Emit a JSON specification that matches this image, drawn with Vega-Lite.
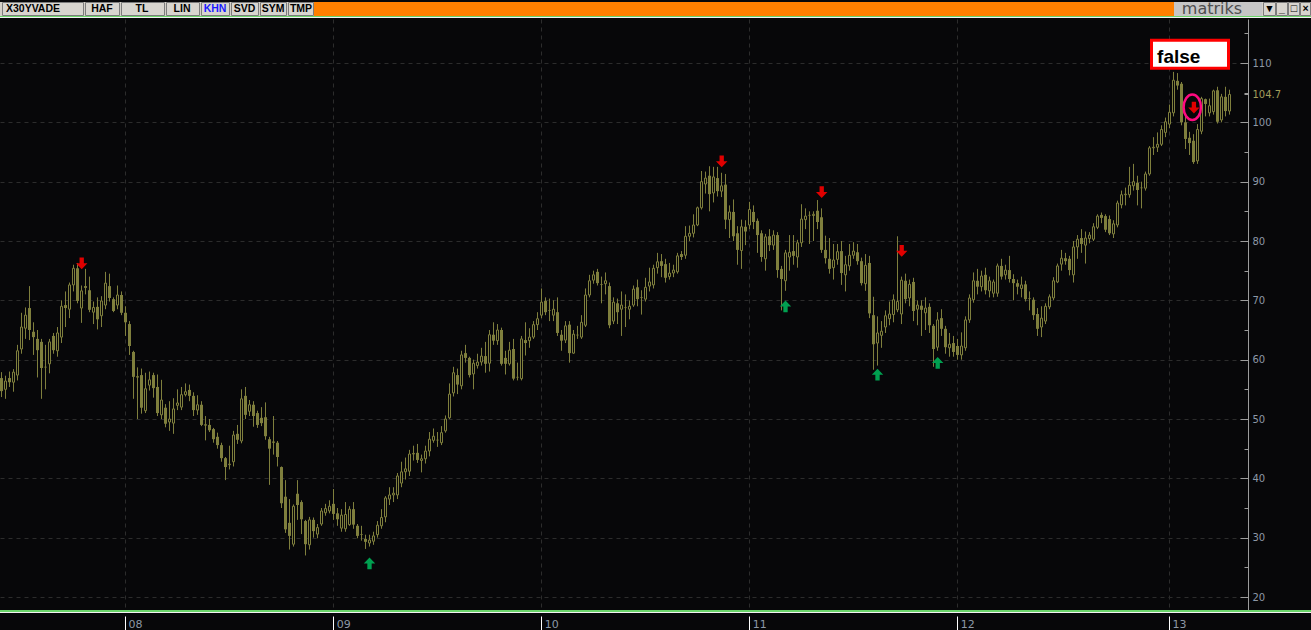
{
"$schema": "https://vega.github.io/schema/vega-lite/v6.json",
"background": "#070709",
"padding": 0,
"spacing": 0,
"config": {"view": {"stroke": null}, "concat": {"spacing": 0}},
"resolve": {"scale": {"x": "independent", "y": "independent", "color": "independent"}},
"datasets": {
"candles": [
{"i":0,"o":56.9,"h":57.9,"l":53.7,"c":54.7},{"i":1,"o":55.0,"h":57.3,"l":53.4,"c":56.4},{"i":2,"o":56.9,"h":58.0,"l":55.4,"c":56.2},{"i":3,"o":56.2,"h":58.4,"l":54.6,"c":57.9},{"i":4,"o":57.4,"h":62.5,"l":56.5,"c":61.5},{"i":5,"o":61.8,"h":67.9,"l":61.0,"c":65.5},{"i":6,"o":65.3,"h":68.8,"l":63.5,"c":67.5},{"i":7,"o":68.7,"h":72.4,"l":63.3,"c":65.0},{"i":8,"o":64.7,"h":66.3,"l":60.8,"c":63.8},{"i":9,"o":63.5,"h":65.0,"l":57.0,"c":61.6},
{"i":10,"o":63.0,"h":63.5,"l":53.4,"c":58.6},{"i":11,"o":58.8,"h":62.5,"l":55.0,"c":58.7},{"i":12,"o":59.3,"h":63.5,"l":57.7,"c":63.0},{"i":13,"o":64.0,"h":64.5,"l":61.0,"c":61.6},{"i":14,"o":61.5,"h":65.5,"l":60.5,"c":64.5},{"i":15,"o":63.8,"h":70.0,"l":62.8,"c":69.0},{"i":16,"o":69.2,"h":71.5,"l":65.5,"c":68.7},{"i":17,"o":68.5,"h":73.0,"l":67.0,"c":72.6},{"i":18,"o":72.6,"h":76.0,"l":71.5,"c":75.4},{"i":19,"o":75.4,"h":76.3,"l":69.5,"c":69.9},
{"i":20,"o":68.7,"h":72.5,"l":66.2,"c":71.6},{"i":21,"o":72.4,"h":75.3,"l":71.0,"c":72.1},{"i":22,"o":71.7,"h":74.0,"l":68.0,"c":68.4},{"i":23,"o":68.0,"h":69.8,"l":66.0,"c":68.8},{"i":24,"o":68.9,"h":70.5,"l":65.1,"c":66.8},{"i":25,"o":67.4,"h":70.7,"l":65.5,"c":69.9},{"i":26,"o":69.2,"h":74.8,"l":68.5,"c":72.9},{"i":27,"o":72.4,"h":74.5,"l":69.8,"c":70.4},{"i":28,"o":70.2,"h":70.5,"l":68.0,"c":68.2},{"i":29,"o":69.2,"h":72.5,"l":68.5,"c":70.9},
{"i":30,"o":70.9,"h":71.5,"l":67.5,"c":67.9},{"i":31,"o":67.9,"h":69.0,"l":64.0,"c":66.3},{"i":32,"o":66.0,"h":66.5,"l":60.8,"c":62.3},{"i":33,"o":61.3,"h":61.5,"l":53.4,"c":57.1},{"i":34,"o":57.2,"h":58.7,"l":50.0,"c":57.0},{"i":35,"o":57.4,"h":58.5,"l":50.9,"c":51.9},{"i":36,"o":51.4,"h":57.8,"l":51.0,"c":55.1},{"i":37,"o":55.7,"h":58.0,"l":54.8,"c":56.6},{"i":38,"o":57.4,"h":57.8,"l":53.6,"c":55.2},{"i":39,"o":55.4,"h":57.5,"l":50.5,"c":51.0},
{"i":40,"o":50.7,"h":56.6,"l":50.0,"c":53.2},{"i":41,"o":51.9,"h":52.5,"l":48.6,"c":49.2},{"i":42,"o":49.5,"h":53.0,"l":48.0,"c":50.0},{"i":43,"o":49.3,"h":53.5,"l":47.5,"c":51.7},{"i":44,"o":52.3,"h":55.0,"l":51.5,"c":52.7},{"i":45,"o":52.0,"h":55.4,"l":51.5,"c":54.1},{"i":46,"o":54.1,"h":56.0,"l":53.8,"c":54.6},{"i":47,"o":54.9,"h":55.8,"l":53.0,"c":53.9},{"i":48,"o":53.9,"h":54.5,"l":50.5,"c":51.5},{"i":49,"o":51.5,"h":54.0,"l":50.7,"c":52.4},
{"i":50,"o":52.4,"h":53.0,"l":48.8,"c":49.0},{"i":51,"o":49.1,"h":50.5,"l":46.4,"c":48.9},{"i":52,"o":49.0,"h":50.0,"l":47.8,"c":48.1},{"i":53,"o":48.3,"h":48.5,"l":46.0,"c":46.6},{"i":54,"o":47.0,"h":47.7,"l":45.0,"c":45.6},{"i":55,"o":45.6,"h":46.0,"l":42.8,"c":43.4},{"i":56,"o":43.4,"h":43.6,"l":39.7,"c":41.9},{"i":57,"o":42.3,"h":45.5,"l":41.5,"c":42.4},{"i":58,"o":42.8,"h":48.0,"l":42.0,"c":47.3},{"i":59,"o":47.5,"h":49.0,"l":45.8,"c":46.5},
{"i":60,"o":46.3,"h":55.0,"l":45.9,"c":53.4},{"i":61,"o":53.9,"h":55.4,"l":50.0,"c":50.7},{"i":62,"o":51.3,"h":53.2,"l":50.5,"c":52.4},{"i":63,"o":52.4,"h":53.0,"l":48.7,"c":50.5},{"i":64,"o":51.0,"h":51.4,"l":48.5,"c":49.0},{"i":65,"o":50.2,"h":52.0,"l":48.8,"c":49.3},{"i":66,"o":50.3,"h":52.8,"l":46.5,"c":47.1},{"i":67,"o":46.6,"h":47.0,"l":38.9,"c":45.0},{"i":68,"o":46.2,"h":50.5,"l":44.0,"c":46.0},{"i":69,"o":46.0,"h":46.3,"l":42.0,"c":43.6},
{"i":70,"o":41.9,"h":42.0,"l":35.0,"c":35.8},{"i":71,"o":36.9,"h":39.7,"l":30.8,"c":31.4},{"i":72,"o":32.5,"h":36.5,"l":28.0,"c":30.3},{"i":73,"o":28.9,"h":35.6,"l":28.5,"c":35.3},{"i":74,"o":37.4,"h":39.7,"l":33.0,"c":35.5},{"i":75,"o":36.0,"h":36.3,"l":30.6,"c":33.1},{"i":76,"o":32.8,"h":33.0,"l":27.0,"c":28.9},{"i":77,"o":28.8,"h":33.5,"l":28.0,"c":33.0},{"i":78,"o":33.0,"h":33.4,"l":30.0,"c":31.1},{"i":79,"o":30.6,"h":32.3,"l":29.9,"c":31.7},
{"i":80,"o":32.3,"h":35.0,"l":32.0,"c":34.5},{"i":81,"o":34.2,"h":35.7,"l":33.7,"c":34.9},{"i":82,"o":34.5,"h":36.3,"l":34.1,"c":35.3},{"i":83,"o":35.7,"h":38.2,"l":33.0,"c":34.0},{"i":84,"o":34.1,"h":35.0,"l":32.0,"c":33.1},{"i":85,"o":31.6,"h":34.8,"l":31.0,"c":33.8},{"i":86,"o":31.5,"h":36.0,"l":31.0,"c":33.9},{"i":87,"o":32.2,"h":35.3,"l":32.0,"c":34.8},{"i":88,"o":34.8,"h":36.0,"l":31.5,"c":32.2},{"i":89,"o":32.0,"h":32.3,"l":29.9,"c":30.3},
{"i":90,"o":30.6,"h":32.0,"l":29.5,"c":30.5},{"i":91,"o":29.8,"h":30.5,"l":28.1,"c":29.3},{"i":92,"o":29.1,"h":30.5,"l":28.5,"c":29.6},{"i":93,"o":29.4,"h":31.0,"l":28.8,"c":30.3},{"i":94,"o":30.5,"h":32.8,"l":30.0,"c":32.1},{"i":95,"o":32.0,"h":34.8,"l":31.5,"c":33.4},{"i":96,"o":33.5,"h":37.0,"l":32.6,"c":36.7},{"i":97,"o":36.5,"h":38.5,"l":35.5,"c":37.2},{"i":98,"o":37.2,"h":38.5,"l":36.0,"c":37.5},{"i":99,"o":37.2,"h":40.9,"l":36.5,"c":40.4},
{"i":100,"o":39.2,"h":42.8,"l":38.5,"c":41.1},{"i":101,"o":41.1,"h":43.5,"l":39.8,"c":41.6},{"i":102,"o":41.2,"h":44.8,"l":40.4,"c":44.1},{"i":103,"o":44.1,"h":45.5,"l":43.0,"c":44.2},{"i":104,"o":44.3,"h":45.8,"l":42.6,"c":43.1},{"i":105,"o":43.0,"h":44.0,"l":41.0,"c":43.3},{"i":106,"o":43.3,"h":45.5,"l":42.5,"c":44.6},{"i":107,"o":44.6,"h":47.8,"l":43.7,"c":46.6},{"i":108,"o":46.4,"h":48.4,"l":46.0,"c":47.1},{"i":109,"o":46.5,"h":47.8,"l":45.3,"c":46.4},
{"i":110,"o":46.0,"h":48.8,"l":45.6,"c":47.7},{"i":111,"o":48.0,"h":50.6,"l":47.7,"c":50.0},{"i":112,"o":50.2,"h":56.0,"l":50.0,"c":54.2},{"i":113,"o":54.4,"h":58.8,"l":53.8,"c":57.8},{"i":114,"o":57.4,"h":58.5,"l":54.2,"c":55.8},{"i":115,"o":55.6,"h":61.5,"l":55.0,"c":60.8},{"i":116,"o":61.1,"h":62.5,"l":59.5,"c":60.3},{"i":117,"o":60.3,"h":60.5,"l":57.0,"c":57.4},{"i":118,"o":57.6,"h":60.0,"l":55.0,"c":59.4},{"i":119,"o":59.0,"h":61.0,"l":58.5,"c":59.6},
{"i":120,"o":59.6,"h":62.0,"l":59.0,"c":60.6},{"i":121,"o":60.6,"h":63.0,"l":57.8,"c":59.3},{"i":122,"o":59.4,"h":65.0,"l":58.0,"c":64.2},{"i":123,"o":64.2,"h":66.3,"l":62.5,"c":63.2},{"i":124,"o":63.2,"h":66.0,"l":62.5,"c":65.0},{"i":125,"o":65.0,"h":65.4,"l":59.0,"c":59.3},{"i":126,"o":60.3,"h":61.5,"l":57.5,"c":59.3},{"i":127,"o":59.3,"h":63.0,"l":59.0,"c":61.6},{"i":128,"o":61.8,"h":63.5,"l":56.5,"c":56.8},{"i":129,"o":57.1,"h":59.5,"l":56.5,"c":57.0},
{"i":130,"o":56.8,"h":64.0,"l":56.5,"c":63.5},{"i":131,"o":63.3,"h":66.3,"l":60.7,"c":62.8},{"i":132,"o":63.2,"h":65.3,"l":62.0,"c":63.8},{"i":133,"o":63.8,"h":66.5,"l":63.5,"c":65.9},{"i":134,"o":65.9,"h":68.0,"l":65.0,"c":66.9},{"i":135,"o":67.5,"h":72.0,"l":67.0,"c":69.7},{"i":136,"o":69.9,"h":70.5,"l":67.5,"c":68.0},{"i":137,"o":68.3,"h":70.3,"l":66.5,"c":68.2},{"i":138,"o":67.5,"h":70.0,"l":66.5,"c":68.5},{"i":139,"o":68.0,"h":70.5,"l":64.0,"c":64.5},
{"i":140,"o":64.2,"h":65.0,"l":61.5,"c":63.2},{"i":141,"o":63.3,"h":66.5,"l":62.8,"c":65.7},{"i":142,"o":65.9,"h":66.5,"l":59.5,"c":61.1},{"i":143,"o":61.1,"h":65.0,"l":61.0,"c":64.3},{"i":144,"o":64.2,"h":65.7,"l":63.5,"c":64.1},{"i":145,"o":63.8,"h":67.5,"l":63.5,"c":66.3},{"i":146,"o":65.8,"h":72.0,"l":65.5,"c":70.9},{"i":147,"o":70.9,"h":74.3,"l":70.5,"c":73.3},{"i":148,"o":73.4,"h":75.0,"l":72.8,"c":74.3},{"i":149,"o":74.8,"h":75.3,"l":72.5,"c":72.9},
{"i":150,"o":72.7,"h":74.0,"l":69.5,"c":72.6},{"i":151,"o":72.8,"h":74.7,"l":71.0,"c":73.3},{"i":152,"o":72.4,"h":73.0,"l":65.3,"c":65.8},{"i":153,"o":66.5,"h":70.5,"l":66.0,"c":69.7},{"i":154,"o":69.5,"h":70.3,"l":66.0,"c":68.0},{"i":155,"o":68.5,"h":71.5,"l":64.0,"c":69.2},{"i":156,"o":68.8,"h":71.0,"l":65.5,"c":68.7},{"i":157,"o":68.5,"h":70.0,"l":66.8,"c":69.0},{"i":158,"o":69.2,"h":72.5,"l":68.9,"c":71.9},{"i":159,"o":72.2,"h":73.5,"l":69.0,"c":70.2},
{"i":160,"o":70.5,"h":71.7,"l":67.6,"c":70.4},{"i":161,"o":70.2,"h":73.8,"l":69.8,"c":72.2},{"i":162,"o":72.4,"h":75.5,"l":71.5,"c":73.1},{"i":163,"o":72.6,"h":76.0,"l":72.0,"c":75.4},{"i":164,"o":75.5,"h":78.0,"l":74.5,"c":76.5},{"i":165,"o":76.6,"h":77.8,"l":73.9,"c":75.8},{"i":166,"o":76.1,"h":77.0,"l":73.0,"c":73.8},{"i":167,"o":74.0,"h":76.3,"l":73.5,"c":74.6},{"i":168,"o":74.6,"h":76.0,"l":73.9,"c":75.1},{"i":169,"o":74.8,"h":78.0,"l":74.5,"c":77.5},
{"i":170,"o":77.8,"h":78.3,"l":76.8,"c":77.3},{"i":171,"o":77.6,"h":82.5,"l":77.0,"c":80.8},{"i":172,"o":80.8,"h":82.6,"l":80.0,"c":81.3},{"i":173,"o":81.3,"h":84.5,"l":80.6,"c":82.7},{"i":174,"o":82.7,"h":85.8,"l":82.5,"c":85.6},{"i":175,"o":85.6,"h":91.8,"l":85.3,"c":90.0},{"i":176,"o":89.6,"h":91.7,"l":88.0,"c":90.6},{"i":177,"o":91.0,"h":92.6,"l":85.0,"c":87.9},{"i":178,"o":88.1,"h":92.5,"l":86.5,"c":90.8},{"i":179,"o":90.6,"h":92.5,"l":87.5,"c":88.4},
{"i":180,"o":88.4,"h":91.5,"l":87.4,"c":89.3},{"i":181,"o":89.5,"h":91.3,"l":82.0,"c":83.6},{"i":182,"o":83.6,"h":86.0,"l":80.5,"c":84.9},{"i":183,"o":84.9,"h":87.0,"l":80.0,"c":80.8},{"i":184,"o":81.3,"h":82.5,"l":76.0,"c":78.5},{"i":185,"o":78.4,"h":83.6,"l":75.3,"c":82.4},{"i":186,"o":82.4,"h":83.5,"l":79.3,"c":81.6},{"i":187,"o":82.7,"h":86.6,"l":82.0,"c":85.3},{"i":188,"o":84.9,"h":86.0,"l":82.0,"c":83.2},{"i":189,"o":83.4,"h":83.8,"l":78.0,"c":81.0},
{"i":190,"o":81.3,"h":81.8,"l":76.5,"c":77.3},{"i":191,"o":77.0,"h":81.2,"l":75.0,"c":80.7},{"i":192,"o":80.8,"h":82.0,"l":78.3,"c":79.3},{"i":193,"o":79.3,"h":81.8,"l":78.5,"c":81.0},{"i":194,"o":81.0,"h":81.5,"l":73.8,"c":75.1},{"i":195,"o":75.3,"h":75.8,"l":68.3,"c":73.6},{"i":196,"o":73.3,"h":78.5,"l":71.6,"c":78.0},{"i":197,"o":77.3,"h":81.0,"l":75.0,"c":78.1},{"i":198,"o":78.3,"h":81.0,"l":76.0,"c":77.5},{"i":199,"o":77.3,"h":80.2,"l":75.5,"c":79.7},
{"i":200,"o":79.7,"h":86.2,"l":79.0,"c":83.7},{"i":201,"o":83.6,"h":85.5,"l":82.0,"c":84.2},{"i":202,"o":84.4,"h":85.0,"l":79.5,"c":84.3},{"i":203,"o":84.3,"h":85.0,"l":80.0,"c":84.5},{"i":204,"o":85.1,"h":86.9,"l":82.0,"c":83.2},{"i":205,"o":84.0,"h":85.5,"l":78.0,"c":78.5},{"i":206,"o":78.5,"h":80.9,"l":76.2,"c":77.1},{"i":207,"o":77.0,"h":80.5,"l":74.5,"c":75.3},{"i":208,"o":75.5,"h":79.5,"l":73.5,"c":76.8},{"i":209,"o":76.9,"h":79.5,"l":76.0,"c":78.2},
{"i":210,"o":78.3,"h":80.0,"l":72.6,"c":74.6},{"i":211,"o":74.3,"h":77.5,"l":71.5,"c":76.0},{"i":212,"o":75.8,"h":79.5,"l":75.0,"c":77.6},{"i":213,"o":77.6,"h":79.8,"l":77.0,"c":78.3},{"i":214,"o":78.1,"h":79.5,"l":76.0,"c":76.6},{"i":215,"o":76.6,"h":77.2,"l":72.5,"c":72.9},{"i":216,"o":72.8,"h":77.8,"l":71.6,"c":75.9},{"i":217,"o":76.3,"h":77.5,"l":67.0,"c":67.8},{"i":218,"o":67.5,"h":70.6,"l":58.3,"c":62.6},{"i":219,"o":62.8,"h":67.3,"l":59.0,"c":64.5},
{"i":220,"o":64.1,"h":66.5,"l":62.0,"c":64.8},{"i":221,"o":65.5,"h":68.3,"l":64.5,"c":67.4},{"i":222,"o":66.9,"h":69.8,"l":65.8,"c":67.7},{"i":223,"o":67.6,"h":71.0,"l":66.3,"c":70.1},{"i":224,"o":68.4,"h":80.8,"l":68.0,"c":69.8},{"i":225,"o":67.7,"h":74.0,"l":66.0,"c":73.4},{"i":226,"o":73.3,"h":74.5,"l":69.5,"c":70.2},{"i":227,"o":70.4,"h":73.5,"l":69.0,"c":72.7},{"i":228,"o":73.1,"h":73.8,"l":66.5,"c":68.2},{"i":229,"o":68.5,"h":70.0,"l":65.8,"c":69.2},
{"i":230,"o":69.1,"h":70.0,"l":64.0,"c":68.4},{"i":231,"o":67.9,"h":70.5,"l":65.0,"c":68.7},{"i":232,"o":68.9,"h":69.5,"l":64.5,"c":65.8},{"i":233,"o":65.7,"h":66.0,"l":58.8,"c":61.8},{"i":234,"o":62.1,"h":68.0,"l":61.5,"c":66.7},{"i":235,"o":67.0,"h":68.5,"l":64.0,"c":65.2},{"i":236,"o":65.2,"h":65.7,"l":61.0,"c":62.1},{"i":237,"o":62.0,"h":64.5,"l":60.5,"c":62.6},{"i":238,"o":62.8,"h":64.0,"l":60.5,"c":61.3},{"i":239,"o":62.3,"h":63.5,"l":60.0,"c":60.8},
{"i":240,"o":60.8,"h":64.6,"l":60.0,"c":62.3},{"i":241,"o":62.0,"h":67.3,"l":61.5,"c":66.7},{"i":242,"o":66.7,"h":71.0,"l":66.2,"c":70.4},{"i":243,"o":70.1,"h":74.7,"l":69.6,"c":73.3},{"i":244,"o":73.3,"h":75.3,"l":71.0,"c":72.3},{"i":245,"o":72.3,"h":75.0,"l":71.5,"c":74.1},{"i":246,"o":74.3,"h":75.5,"l":71.0,"c":71.7},{"i":247,"o":71.6,"h":74.0,"l":70.5,"c":73.3},{"i":248,"o":71.2,"h":73.5,"l":70.5,"c":73.1},{"i":249,"o":71.2,"h":76.2,"l":70.6,"c":75.8},
{"i":250,"o":75.8,"h":77.0,"l":73.5,"c":74.0},{"i":251,"o":74.3,"h":76.0,"l":73.5,"c":75.1},{"i":252,"o":75.1,"h":77.5,"l":73.0,"c":73.6},{"i":253,"o":73.6,"h":74.4,"l":70.0,"c":72.9},{"i":254,"o":72.9,"h":73.5,"l":71.0,"c":72.3},{"i":255,"o":72.0,"h":74.0,"l":70.5,"c":72.6},{"i":256,"o":72.7,"h":73.3,"l":69.8,"c":70.2},{"i":257,"o":70.4,"h":71.5,"l":68.3,"c":70.3},{"i":258,"o":70.1,"h":70.5,"l":66.7,"c":67.5},{"i":259,"o":67.7,"h":68.7,"l":64.0,"c":65.2},
{"i":260,"o":65.5,"h":69.0,"l":63.8,"c":67.0},{"i":261,"o":66.5,"h":69.5,"l":66.0,"c":69.0},{"i":262,"o":68.9,"h":71.0,"l":68.5,"c":70.6},{"i":263,"o":70.4,"h":73.9,"l":70.0,"c":73.3},{"i":264,"o":73.1,"h":76.2,"l":72.9,"c":75.8},{"i":265,"o":76.1,"h":78.5,"l":75.0,"c":77.1},{"i":266,"o":77.1,"h":78.0,"l":76.0,"c":76.6},{"i":267,"o":77.0,"h":77.5,"l":74.2,"c":75.1},{"i":268,"o":74.3,"h":80.0,"l":73.0,"c":79.0},{"i":269,"o":79.0,"h":81.0,"l":77.0,"c":80.3},
{"i":270,"o":80.5,"h":82.0,"l":78.0,"c":79.5},{"i":271,"o":79.3,"h":81.6,"l":76.2,"c":80.5},{"i":272,"o":80.4,"h":81.5,"l":79.6,"c":81.0},{"i":273,"o":80.3,"h":83.0,"l":80.0,"c":82.4},{"i":274,"o":82.3,"h":84.5,"l":82.0,"c":84.2},{"i":275,"o":84.4,"h":84.8,"l":83.0,"c":83.9},{"i":276,"o":84.2,"h":84.5,"l":81.5,"c":81.9},{"i":277,"o":83.7,"h":84.3,"l":81.0,"c":81.3},{"i":278,"o":81.2,"h":83.5,"l":80.5,"c":82.9},{"i":279,"o":82.7,"h":86.8,"l":82.3,"c":86.4},
{"i":280,"o":86.1,"h":88.5,"l":85.5,"c":87.8},{"i":281,"o":87.8,"h":89.0,"l":86.0,"c":87.9},{"i":282,"o":87.8,"h":92.5,"l":87.3,"c":89.4},{"i":283,"o":89.3,"h":93.0,"l":88.5,"c":90.0},{"i":284,"o":89.8,"h":91.0,"l":86.0,"c":88.6},{"i":285,"o":89.0,"h":90.0,"l":85.5,"c":88.9},{"i":286,"o":88.9,"h":91.7,"l":88.5,"c":91.3},{"i":287,"o":91.3,"h":96.0,"l":91.0,"c":95.7},{"i":288,"o":95.7,"h":97.5,"l":94.5,"c":95.8},{"i":289,"o":95.8,"h":98.3,"l":95.0,"c":96.3},
{"i":290,"o":96.3,"h":99.5,"l":96.0,"c":98.8},{"i":291,"o":98.3,"h":100.8,"l":97.5,"c":100.1},{"i":292,"o":99.7,"h":103.0,"l":99.0,"c":101.7},{"i":293,"o":101.6,"h":108.5,"l":101.0,"c":107.1},{"i":294,"o":107.0,"h":108.3,"l":105.5,"c":106.2},{"i":295,"o":106.5,"h":106.8,"l":99.5,"c":100.0},{"i":296,"o":100.0,"h":101.0,"l":95.5,"c":97.2},{"i":297,"o":97.4,"h":98.4,"l":94.5,"c":96.5},{"i":298,"o":96.9,"h":98.0,"l":93.0,"c":93.3},{"i":299,"o":93.5,"h":99.7,"l":93.0,"c":98.8},
{"i":300,"o":98.5,"h":104.3,"l":98.0,"c":104.0},{"i":301,"o":103.9,"h":104.0,"l":101.0,"c":103.1},{"i":302,"o":101.6,"h":104.0,"l":101.0,"c":102.8},{"i":303,"o":101.8,"h":105.5,"l":101.3,"c":105.3},{"i":304,"o":105.4,"h":106.0,"l":99.8,"c":100.1},{"i":305,"o":100.4,"h":104.8,"l":100.0,"c":104.3},{"i":306,"o":104.3,"h":106.0,"l":101.0,"c":101.9},{"i":307,"o":101.9,"h":105.5,"l":101.3,"c":104.7}
],
"downArrows": [{"i":20.05,"v":76.2},{"i":180.05,"v":93.4},{"i":205.05,"v":88.2},{"i":225.05,"v":78.3},{"i":298.1,"v":102.45}],
"upArrows": [{"i":92.0,"v":25.7},{"i":196.0,"v":69.0},{"i":219.0,"v":57.5},{"i":234.05,"v":59.5}],
"marker": [{"i":297.7,"v":102.55}],
"note": [{"a":287.5,"b":306.75,"lo":109.12,"hi":113.84,"tx":288.9,"ty":110.05,"label":"false"}],
"years": [{"i":30.875},{"i":82.95},{"i":134.95},{"i":186.95},{"i":238.95},{"i":291.875}],
"tbBlocks": [{"a":0,"b":1311,"t":0,"u":14,"k":"bar"},{"a":314,"b":1174,"t":0,"u":14,"k":"orange"},{"a":1174,"b":1262,"t":0,"u":14,"k":"logo"},{"a":0,"b":1311,"t":14,"u":15,"k":"green"},{"a":0,"b":1311,"t":15,"u":16,"k":"white"}],
"tbButtons": [{"a":2.5,"b":83.5},{"a":85.5,"b":119.5},{"a":121.5,"b":164.5},{"a":166.5,"b":199.5},{"a":201.5,"b":229.5},{"a":231.5,"b":258.5},{"a":260.5,"b":286.5},{"a":288.5,"b":313.5},{"a":1263.5,"b":1275.5},{"a":1276.5,"b":1287.5},{"a":1288.5,"b":1299.5},{"a":1300.5,"b":1310.5}],
"tbText": [{"x":33,"label":"X30YVADE","k":"btn"},{"x":102,"label":"HAF","k":"btn"},{"x":142,"label":"TL","k":"btn"},{"x":182,"label":"LIN","k":"btn"},{"x":215,"label":"KHN","k":"sel"},{"x":244.5,"label":"SVD","k":"btn"},{"x":273,"label":"SYM","k":"btn"},{"x":301,"label":"TMP","k":"btn"},{"x":1269.5,"label":"▼","k":"win"},{"x":1282,"label":"_","k":"win"},{"x":1294,"label":"□","k":"win"},{"x":1305.5,"label":"×","k":"win"}],
"tbLogo": [{"x":1212,"label":"matriks"}]
},
"vconcat": [
{
 "width": 1311, "height": 17,
 "view": {"stroke": null},
 "resolve": {"scale": {"color": "independent"}},
 "layer": [
  {"data": {"name": "tbBlocks"}, "mark": {"type": "rect"},
   "encoding": {
    "x": {"field": "a", "type": "quantitative", "scale": {"domain": [0, 1311], "nice": false, "zero": false, "padding": 0}, "axis": null},
    "x2": {"field": "b"},
    "y": {"field": "t", "type": "quantitative", "scale": {"domain": [0, 17], "reverse": true, "nice": false, "zero": false, "padding": 0}, "axis": null},
    "y2": {"field": "u"},
    "color": {"field": "k", "type": "nominal", "scale": {"domain": ["bar", "orange", "logo", "green", "white"], "range": ["#d4d0c8", "#ff8000", "#c6c6c6", "#6ad46a", "#f2f2f2"]}, "legend": null}
   }},
  {"data": {"name": "tbButtons"}, "mark": {"type": "rect", "fill": "#d8d5cf", "stroke": "#7c7c7c", "strokeWidth": 1},
   "encoding": {
    "x": {"field": "a", "type": "quantitative", "axis": null},
    "x2": {"field": "b"},
    "y": {"datum": 0.5, "type": "quantitative", "axis": null},
    "y2": {"datum": 13.5}
   }},
  {"data": {"name": "tbText"}, "mark": {"type": "text", "font": "Liberation Sans", "fontSize": 10.5, "fontWeight": "bold", "baseline": "middle", "align": "center"},
   "encoding": {
    "x": {"field": "x", "type": "quantitative", "axis": null},
    "y": {"datum": 7.2, "type": "quantitative", "axis": null},
    "text": {"field": "label"},
    "color": {"field": "k", "type": "nominal", "scale": {"domain": ["btn", "sel", "win"], "range": ["#000000", "#1a1aff", "#000000"]}, "legend": null}
   }},
  {"data": {"name": "tbLogo"}, "mark": {"type": "text", "font": "DejaVu Sans", "fontSize": 16, "color": "#4d4d4d", "baseline": "middle", "align": "center"},
   "encoding": {
    "x": {"field": "x", "type": "quantitative", "axis": null},
    "y": {"datum": 6.5, "type": "quantitative", "axis": null},
    "text": {"field": "label"}
   }}
 ]
},
{
 "width": 1248, "height": 591,
 "view": {"stroke": null},
 "resolve": {"axis": {"x": "independent", "y": "independent"}},
 "layer": [
  {"data": {"name": "candles"},
   "mark": {"type": "rule", "color": "#7f7f3d", "strokeWidth": 1},
   "encoding": {
    "x": {"field": "i", "type": "quantitative", "scale": {"domain": [-0.375, 311.625], "nice": false, "zero": false, "padding": 0},
      "axis": {"orient": "bottom", "values": [30.875, 82.95, 134.95, 186.95, 238.95, 291.875], "grid": true, "gridColor": "#2c2c2c", "gridDash": [4, 4], "gridWidth": 1, "domain": false, "ticks": false, "labels": false, "title": null, "minExtent": 0, "maxExtent": 0}},
    "y": {"field": "l", "type": "quantitative", "scale": {"domain": [17.809, 117.416], "nice": false, "zero": false, "padding": 0},
      "axis": {"orient": "left", "offset": -1248, "values": [20, 30, 40, 50, 60, 70, 80, 90, 100, 110], "grid": true, "gridColor": "#2c2c2c", "gridDash": [4, 4], "gridWidth": 1, "domain": true, "domainColor": "#9c9c9c", "domainWidth": 1, "ticks": true, "tickColor": "#9c9c9c", "tickSize": 8, "tickWidth": 1, "labels": true, "labelAlign": "left", "labelBaseline": "middle", "labelPadding": -12, "labelFont": "DejaVu Sans", "labelFontSize": 10, "labelColor": "#8d98a6", "labelOverlap": false, "labelFlush": false, "title": null, "minExtent": 0, "maxExtent": 0}},
    "y2": {"field": "h"}
   }},
  {"data": {"name": "candles"},
   "transform": [{"filter": "datum.c >= datum.o"}],
   "mark": {"type": "bar", "size": 2, "fill": "#070709", "stroke": "#7f7f3d", "strokeWidth": 1},
   "encoding": {
    "x": {"field": "i", "type": "quantitative", "axis": null},
    "y": {"field": "o", "type": "quantitative",
      "axis": {"orient": "left", "offset": -1248, "values": [25, 35, 45, 55, 65, 75, 85, 95, 105, 115], "grid": false, "domain": false, "ticks": true, "tickColor": "#9c9c9c", "tickSize": 4, "labels": false, "title": null, "minExtent": 0, "maxExtent": 0}},
    "y2": {"field": "c"}
   }},
  {"data": {"name": "candles"},
   "transform": [{"filter": "datum.c < datum.o"}],
   "mark": {"type": "bar", "size": 3, "color": "#7f7f3d"},
   "encoding": {
    "x": {"field": "i", "type": "quantitative", "axis": null},
    "y": {"field": "o", "type": "quantitative",
      "axis": {"orient": "left", "offset": -1248, "values": [104.7], "format": ".1f", "grid": false, "domain": false, "ticks": true, "tickColor": "#9c9c9c", "tickSize": 4, "labels": true, "labelAlign": "left", "labelBaseline": "middle", "labelPadding": -8, "labelFont": "DejaVu Sans", "labelFontSize": 10, "labelColor": "#a39e5a", "labelOverlap": false, "labelFlush": false, "title": null, "minExtent": 0, "maxExtent": 0}},
    "y2": {"field": "c"}
   }},
  {"data": {"name": "downArrows"},
   "mark": {"type": "point", "shape": "M-0.36,-1H0.36V-0.05H0.95L0,0.95L-0.95,-0.05H-0.36Z", "filled": true, "color": "#e00000", "size": 145, "opacity": 1},
   "encoding": {
    "x": {"field": "i", "type": "quantitative", "axis": null},
    "y": {"field": "v", "type": "quantitative", "axis": null}
   }},
  {"data": {"name": "upArrows"},
   "mark": {"type": "point", "shape": "M-0.36,1H0.36V0.05H0.95L0,-0.95L-0.95,0.05H-0.36Z", "filled": true, "color": "#00a050", "size": 145, "opacity": 1},
   "encoding": {
    "x": {"field": "i", "type": "quantitative", "axis": null},
    "y": {"field": "v", "type": "quantitative", "axis": null}
   }},
  {"data": {"name": "marker"},
   "mark": {"type": "point", "shape": "M0,-1C0.376,-1 0.68,-0.552 0.68,0C0.68,0.552 0.376,1 0,1C-0.376,1 -0.68,0.552 -0.68,0C-0.68,-0.552 -0.376,-1 0,-1Z", "filled": false, "stroke": "#ff0a80", "strokeWidth": 2.5, "size": 650, "opacity": 1},
   "encoding": {
    "x": {"field": "i", "type": "quantitative", "axis": null},
    "y": {"field": "v", "type": "quantitative", "axis": null}
   }},
  {"data": {"name": "note"},
   "mark": {"type": "rect", "fill": "#ffffff", "stroke": "#ff0000", "strokeWidth": 3},
   "encoding": {
    "x": {"field": "a", "type": "quantitative", "axis": null},
    "x2": {"field": "b"},
    "y": {"field": "lo", "type": "quantitative", "axis": null},
    "y2": {"field": "hi"}
   }},
  {"data": {"name": "note"},
   "mark": {"type": "text", "align": "left", "baseline": "alphabetic", "font": "Liberation Sans", "fontSize": 19, "fontWeight": "bold", "color": "#000000"},
   "encoding": {
    "x": {"field": "tx", "type": "quantitative", "axis": null},
    "y": {"field": "ty", "type": "quantitative", "axis": null},
    "text": {"field": "label"}
   }}
 ]
},
{
 "width": 1311, "height": 2,
 "view": {"fill": "#6ad46a", "stroke": null},
 "data": {"values": []},
 "mark": "rule",
 "encoding": {}
},
{
 "width": 1311, "height": 1,
 "view": {"fill": "#f2f2f2", "stroke": null},
 "data": {"values": []},
 "mark": "rule",
 "encoding": {}
},
{
 "width": 1311, "height": 19,
 "view": {"stroke": null},
 "data": {"name": "years"},
 "mark": {"type": "rule", "opacity": 0},
 "encoding": {
  "x": {"field": "i", "type": "quantitative", "scale": {"domain": [-0.375, 327.375], "nice": false, "zero": false, "padding": 0},
   "axis": {"orient": "bottom", "offset": -16, "values": [30.875, 82.95, 134.95, 186.95, 238.95, 291.875], "domain": false, "grid": false, "ticks": true, "tickColor": "#ffffff", "tickSize": 16, "tickWidth": 1, "labels": true, "labelExpr": "datum.value < 50 ? '08' : datum.value < 100 ? '09' : datum.value < 160 ? '10' : datum.value < 210 ? '11' : datum.value < 260 ? '12' : '13'", "labelAlign": "left", "labelBaseline": "alphabetic", "labelPadding": -5, "labelOffset": 3, "labelColor": "#8d98a6", "labelFont": "DejaVu Sans", "labelFontSize": 11, "labelFlush": false, "labelOverlap": false, "title": null, "minExtent": 0, "maxExtent": 0}}
 }
}
]
}
